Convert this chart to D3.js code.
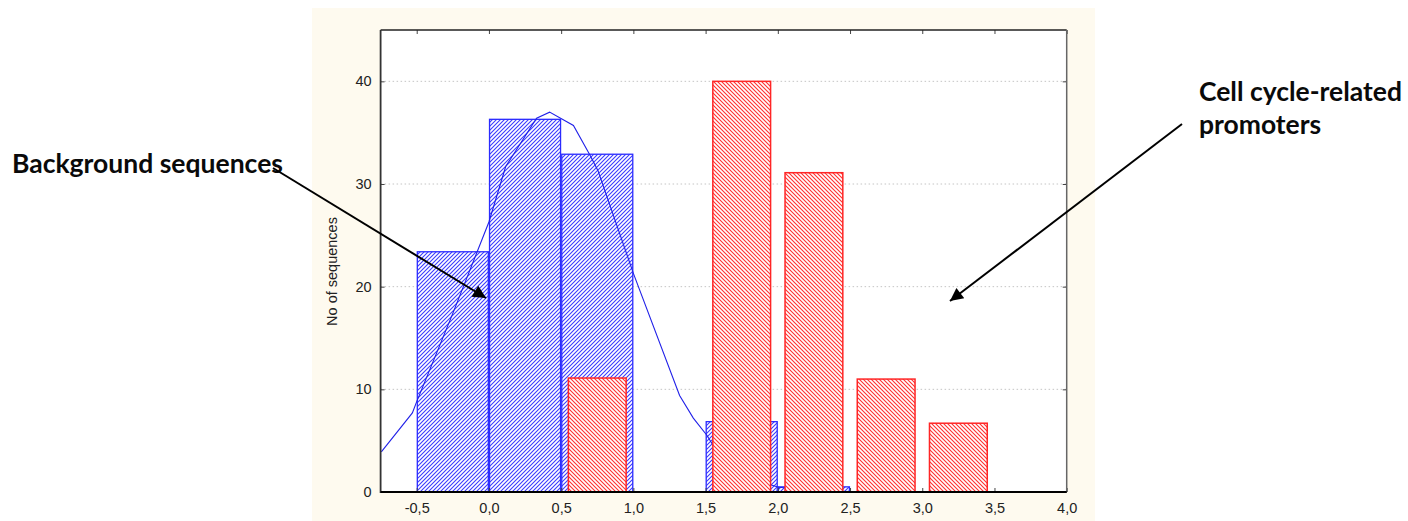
<!DOCTYPE html>
<html>
<head>
<meta charset="utf-8">
<script src="https://cdn.jsdelivr.net/npm/d3@7"></script>
<style>
  html, body { margin: 0; padding: 0; background: #ffffff; }
  svg { display: block; }
</style>
</head>
<body>
<svg id="chart" width="1408" height="521"></svg>
<script>
// ---------- data ----------
const xTicks = [-0.5, 0.0, 0.5, 1.0, 1.5, 2.0, 2.5, 3.0, 3.5, 4.0];
const yTicks = [0, 10, 20, 30, 40];

// Background sequences histogram (blue)
const bgBinStart = [-0.5, 0.0, 0.5, 1.0, 1.5, 2.0];
const bgBinEnd   = [ 0.0, 0.5, 1.0, 1.5, 2.0, 2.5];
const bgCounts   = [23.4, 36.3, 32.9, 0, 6.85, 0.5];

// Cell cycle-related promoters histogram (red)
const ccBinStart = [0.55, 1.05, 1.55, 2.05, 2.55, 3.05];
const ccBinEnd   = [0.95, 1.45, 1.95, 2.45, 2.95, 3.45];
const ccCounts   = [11.1, 0, 40.0, 31.1, 11.0, 6.7];

// fitted curve for background sequences
const curveX = [-0.745, -0.53, -0.50, -0.25, 0.0, 0.116, 0.33, 0.42, 0.585, 0.70, 0.755, 1.0, 1.32, 1.415, 1.51, 1.545, 1.75, 1.955, 2.005, 2.25, 2.5];
const curveY = [3.9, 7.7, 8.8, 17.4, 26.3, 31.7, 36.4, 37.0, 35.7, 32.8, 31.3, 21.3, 9.4, 7.2, 5.5, 4.7, 2.0, 0.68, 0.46, 0.15, 0.04];

const yLabel = "No of sequences";
const bgLabel = "Background sequences";
const ccLabel = ["Cell cycle-related", "promoters"];

// ---------- layout ----------
const svg = d3.select("#chart");
const plot = { left: 380.6, right: 1066.7, top: 30, bottom: 492 };

const x = d3.scaleLinear().domain([-0.75, 4.0]).range([plot.left, plot.right]);
const y = d3.scaleLinear().domain([0, 45]).range([plot.bottom, plot.top]);

// beige panel
svg.append("rect").attr("x", 312).attr("y", 8).attr("width", 783).attr("height", 513)
  .attr("fill", "#fefaef");
// plot background
svg.append("rect").attr("x", plot.left).attr("y", plot.top)
  .attr("width", plot.right - plot.left).attr("height", plot.bottom - plot.top)
  .attr("fill", "#ffffff");

// patterns
const defs = svg.append("defs");
const pb = defs.append("pattern").attr("id", "hatchBlue").attr("patternUnits", "userSpaceOnUse")
  .attr("width", 4).attr("height", 4);
pb.append("rect").attr("width", 4).attr("height", 4).attr("fill", "#ffffff");
pb.append("path").attr("d", "M-1,1 l2,-2 M0,4 l4,-4 M3,5 l2,-2")
  .attr("stroke", "#3a3aff").attr("stroke-width", 1.1);
const pr = defs.append("pattern").attr("id", "hatchRed").attr("patternUnits", "userSpaceOnUse")
  .attr("width", 4).attr("height", 4);
pr.append("rect").attr("width", 4).attr("height", 4).attr("fill", "#ffffff");
pr.append("path").attr("d", "M-1,3 l2,2 M0,0 l4,4 M3,-1 l2,2")
  .attr("stroke", "#ff3030").attr("stroke-width", 1.1);

// gridlines
svg.append("g").selectAll("line").data(yTicks.filter(d => d > 0)).join("line")
  .attr("x1", plot.left).attr("x2", plot.right)
  .attr("y1", d => y(d)).attr("y2", d => y(d))
  .attr("stroke", "#c4c4c4").attr("stroke-width", 1).attr("stroke-dasharray", "1.5,2.5");

// blue bars
const bgData = bgCounts.map((c, i) => ({ x0: bgBinStart[i], x1: bgBinEnd[i], c }));
svg.append("g").selectAll("rect").data(bgData).join("rect")
  .attr("x", d => x(d.x0) + 0.6)
  .attr("width", d => x(d.x1) - x(d.x0) - 1.2)
  .attr("y", d => y(d.c))
  .attr("height", d => y(0) - y(d.c))
  .attr("fill", "url(#hatchBlue)")
  .attr("stroke", "#2b2bff").attr("stroke-width", 1.3);

// fitted curve
const curve = curveX.map((v, i) => [v, curveY[i]]);
svg.append("path").datum(curve)
  .attr("d", d3.line().x(d => x(d[0])).y(d => y(d[1])))
  .attr("fill", "none").attr("stroke", "#2020e8").attr("stroke-width", 1.1);

// red bars
const ccData = ccCounts.map((c, i) => ({ x0: ccBinStart[i], x1: ccBinEnd[i], c }));
svg.append("g").selectAll("rect").data(ccData).join("rect")
  .attr("x", d => x(d.x0))
  .attr("width", d => x(d.x1) - x(d.x0))
  .attr("y", d => y(d.c))
  .attr("height", d => y(0) - y(d.c))
  .attr("fill", "url(#hatchRed)")
  .attr("stroke", "#ff2626").attr("stroke-width", 1.5);

// axes
const fmt = d => d3.format(".1f")(d).replace(".", ",").replace("\u2212", "-");
const axFont = "'Liberation Sans', Arial, sans-serif";

const xAxis = svg.append("g").attr("transform", `translate(0,${plot.bottom})`)
  .call(d3.axisBottom(x).tickValues(xTicks).tickFormat(fmt).tickSize(-4).tickPadding(11));
const xAxisTop = svg.append("g").attr("transform", `translate(0,${plot.top})`)
  .call(d3.axisTop(x).tickValues(xTicks).tickFormat("").tickSize(-4));
const yAxis = svg.append("g").attr("transform", `translate(${plot.left},0)`)
  .call(d3.axisLeft(y).tickValues(yTicks).tickFormat(d3.format("d")).tickSize(-4).tickPadding(9));
const yAxisRight = svg.append("g").attr("transform", `translate(${plot.right},0)`)
  .call(d3.axisRight(y).tickValues(yTicks).tickFormat("").tickSize(-4));

[xAxis, xAxisTop, yAxis, yAxisRight].forEach(g => {
  g.select(".domain").remove();
  g.selectAll(".tick line").attr("stroke", "#444").attr("stroke-width", 1);
  g.selectAll("text").attr("font-family", axFont).attr("font-size", 14.5).attr("fill", "#222");
});

// frame
svg.append("line").attr("x1", plot.left).attr("x2", plot.right).attr("y1", plot.top).attr("y2", plot.top)
  .attr("stroke", "#222").attr("stroke-width", 1.5);
svg.append("line").attr("x1", plot.right).attr("x2", plot.right).attr("y1", plot.top).attr("y2", plot.bottom)
  .attr("stroke", "#666").attr("stroke-width", 1.5);
svg.append("line").attr("x1", plot.left).attr("x2", plot.left).attr("y1", plot.top).attr("y2", plot.bottom + 1)
  .attr("stroke", "#333").attr("stroke-width", 1.8);
svg.append("line").attr("x1", plot.left).attr("x2", plot.right).attr("y1", plot.bottom).attr("y2", plot.bottom)
  .attr("stroke", "#000").attr("stroke-width", 2);

// y-axis title
svg.append("text")
  .attr("transform", `translate(337,271.5) rotate(-90)`)
  .attr("text-anchor", "middle")
  .attr("font-family", axFont).attr("font-size", 14.5).attr("fill", "#222")
  .text(yLabel);

// annotations
const annFont = "Lato, 'Open Sans', sans-serif";
function fitText(sel, target) {
  const w = sel.node().getComputedTextLength();
  const fs = parseFloat(sel.attr("font-size"));
  sel.attr("font-size", fs * target / w);
}
const t1 = svg.append("text").attr("x", 12).attr("y", 173)
  .attr("font-family", annFont).attr("font-weight", "bold").attr("font-size", 24).attr("fill", "#0a0a0a")
  .text(bgLabel);
fitText(t1, 271);
const t2 = svg.append("text").attr("x", 1199).attr("y", 101)
  .attr("font-family", annFont).attr("font-weight", "bold").attr("font-size", 24).attr("fill", "#0a0a0a")
  .text(ccLabel[0]);
fitText(t2, 203);
svg.append("text").attr("x", 1199).attr("y", 134)
  .attr("font-family", annFont).attr("font-weight", "bold").attr("font-size", t2.attr("font-size")).attr("fill", "#0a0a0a")
  .text(ccLabel[1]);

defs.append("marker").attr("id", "arrowHead").attr("viewBox", "0 0 10 10")
  .attr("refX", 10).attr("refY", 5).attr("markerUnits", "userSpaceOnUse")
  .attr("markerWidth", 16).attr("markerHeight", 13).attr("orient", "auto")
  .append("path").attr("d", "M0,0 L10,5 L0,10 Z").attr("fill", "#000");

svg.append("line").attr("x1", 273).attr("y1", 168).attr("x2", 486).attr("y2", 298)
  .attr("stroke", "#000").attr("stroke-width", 2).attr("marker-end", "url(#arrowHead)");
svg.append("line").attr("x1", 1182).attr("y1", 124).attr("x2", 950).attr("y2", 301)
  .attr("stroke", "#000").attr("stroke-width", 2).attr("marker-end", "url(#arrowHead)");
</script>
</body>
</html>
